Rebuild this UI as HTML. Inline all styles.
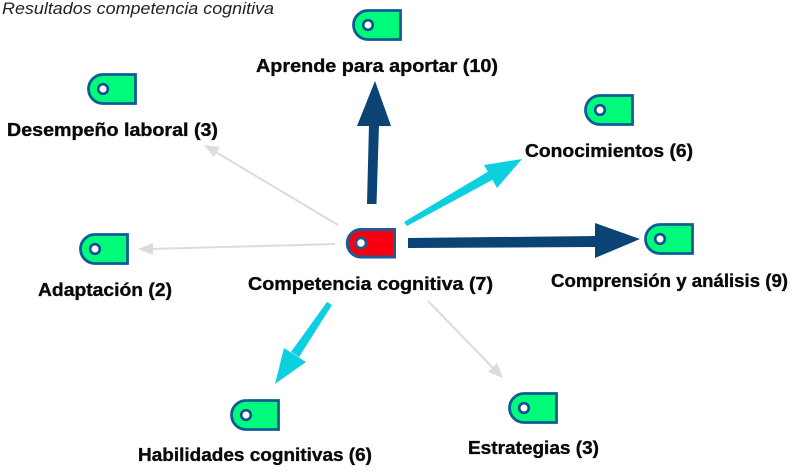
<!DOCTYPE html>
<html>
<head>
<meta charset="utf-8">
<style>
html,body{margin:0;padding:0;background:#fff;width:797px;height:472px;overflow:hidden}
svg{display:block}
text{font-family:"Liberation Sans",sans-serif;font-weight:bold;font-size:18px;fill:#0a0a0a;stroke:#0a0a0a;stroke-width:.35px}
</style>
</head>
<body>
<svg width="797" height="472" viewBox="0 0 797 472" xmlns="http://www.w3.org/2000/svg">
<defs>
<g id="n">
<path d="M15 1.500H47.500V30.500H15A14.500 14.500 0 0 1 15 1.500Z" fill="#00fa7a" stroke="#0f5c96" stroke-width="2.800"/>
<circle cx="15" cy="16" r="4.800" fill="#fff" stroke="#0f4f96" stroke-width="2.600"/>
</g>
</defs>
<text x="2" y="14" textLength="272" lengthAdjust="spacingAndGlyphs" style="font-weight:normal;font-style:italic;font-size:17px;fill:#222;stroke:none">Resultados competencia cognitiva</text>

<!-- gray arrows -->
<g stroke="#dcdcdc" stroke-width="2" fill="#dcdcdc">
<line x1="338" y1="225" x2="214" y2="151"/>
<polygon points="204,145 220,147 214,157" stroke="none"/>
<line x1="335" y1="244" x2="150" y2="249"/>
<polygon points="138,249 153,243 153,255" stroke="none"/>
<line x1="428" y1="301" x2="494" y2="369"/>
<polygon points="503,378 488,372 497,363" stroke="none"/>
</g>

<!-- cyan arrows -->
<g fill="#0ccfe0">
<polygon points="404,222 407,226 494,179 489,171"/>
<polygon points="522,159 484,165 497,188"/>
<polygon points="327,302 332,305 299,357 291,352"/>
<polygon points="275,384 284,348 306,362"/>
</g>

<!-- dark arrows -->
<g fill="#0a4374">
<polygon points="367,204 376.500,204 379,124 369,124"/>
<polygon points="375,81 391,126 357,126"/>
<polygon points="408,238 408,248 597,247 597,236"/>
<polygon points="640,239 595,223 595,258"/>
</g>

<use href="#n" x="353" y="9"/>
<use href="#n" x="88" y="73"/>
<use href="#n" x="585" y="94"/>
<use href="#n" x="80" y="233"/>
<use href="#n" x="645" y="223"/>
<use href="#n" x="231" y="399"/>
<use href="#n" x="509" y="392"/>

<path d="M361 229.500H394.500V257H361A13.750 13.750 0 0 1 361 229.500Z" fill="#f5000c" stroke="#1d5a96" stroke-width="3"/>
<circle cx="361" cy="243" r="5" fill="#fff" stroke="#1d5a96" stroke-width="2.600"/>

<text x="256" y="72" textLength="242" lengthAdjust="spacingAndGlyphs">Aprende para aportar (10)</text>
<text x="7" y="136" textLength="211" lengthAdjust="spacingAndGlyphs">Desempeño laboral (3)</text>
<text x="525" y="157" textLength="168" lengthAdjust="spacingAndGlyphs">Conocimientos (6)</text>
<text x="38" y="296" textLength="134" lengthAdjust="spacingAndGlyphs">Adaptación (2)</text>
<text x="248" y="290" textLength="245" lengthAdjust="spacingAndGlyphs">Competencia cognitiva (7)</text>
<text x="551" y="287" textLength="237" lengthAdjust="spacingAndGlyphs">Comprensión y análisis (9)</text>
<text x="138" y="461" textLength="234" lengthAdjust="spacingAndGlyphs">Habilidades cognitivas (6)</text>
<text x="468" y="454" textLength="131" lengthAdjust="spacingAndGlyphs">Estrategias (3)</text>
</svg>
</body>
</html>
